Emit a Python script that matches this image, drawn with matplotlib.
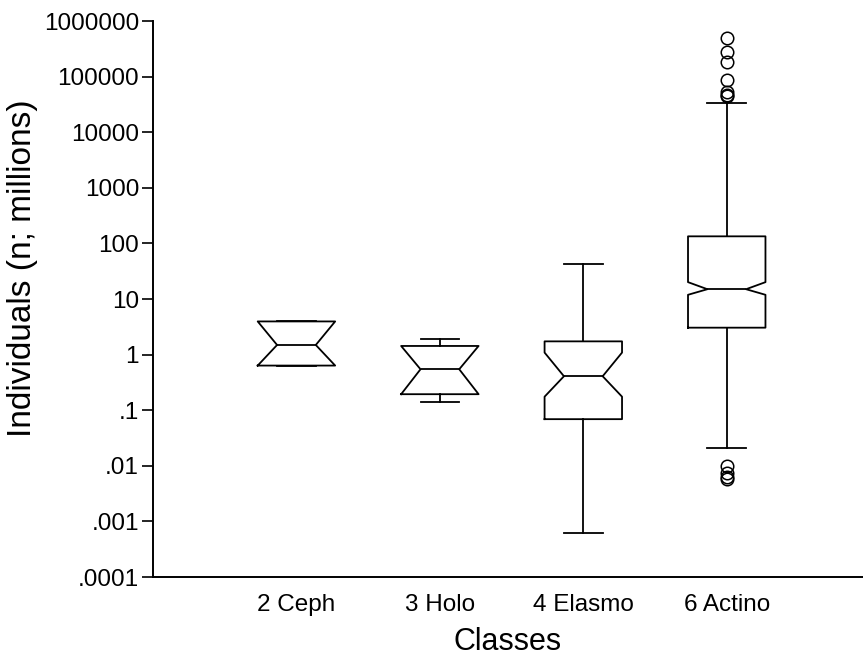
import matplotlib
matplotlib.use("Agg")
import matplotlib.pyplot as plt
from matplotlib.ticker import FixedLocator, FixedFormatter, NullLocator

plt.rcParams['font.family'] = ['Liberation Sans', 'DejaVu Sans']

classes = ["2 Ceph", "3 Holo", "4 Elasmo", "6 Actino"]
q1 = [0.635, 0.194, 0.069, 3.05]
median = [1.49, 0.545, 0.408, 15.0]
q3 = [3.95, 1.43, 1.73, 134.0]
whisker_low = [0.635, 0.14, 0.00062, 0.0207]
whisker_high = [3.95, 1.91, 43.3, 33300.0]
notch_low = [0.635, 0.194, 0.175, 11.9]
notch_high = [3.95, 1.43, 1.087, 20.1]
outliers = [
    [],
    [],
    [],
    [487000, 276000, 185000, 88300, 53200, 47500, 44400,
     0.0098, 0.0074, 0.0062, 0.0057],
]

ytick_values = [1e6, 1e5, 1e4, 1e3, 1e2, 1e1, 1, 0.1, 0.01, 0.001, 0.0001]
ytick_labels = ["1000000", "100000", "10000", "1000", "100", "10", "1",
                ".1", ".01", ".001", ".0001"]

stats = []
for i, name in enumerate(classes):
    stats.append(dict(label=name, med=median[i], q1=q1[i], q3=q3[i],
                      whislo=whisker_low[i], whishi=whisker_high[i],
                      cilo=notch_low[i], cihi=notch_high[i],
                      fliers=outliers[i]))

fig = plt.figure(figsize=(8.63, 6.59), dpi=100)
ax = fig.add_axes([153 / 863, (659 - 577) / 659, (863 - 153) / 863, (577 - 21) / 659])

line_kw = dict(color="black", linewidth=1.3)
ax.bxp(stats, positions=[1, 2, 3, 4], widths=0.54, shownotches=True,
       boxprops=line_kw, whiskerprops=line_kw, capprops=line_kw,
       medianprops=line_kw,
       flierprops=dict(marker="o", markerfacecolor="none",
                       markeredgecolor="black", markersize=9,
                       markeredgewidth=1.1))

ax.set_yscale("log")
ax.set_ylim(1e-4, 1e6)
ax.set_xlim(0, 4.95)
ax.yaxis.set_major_locator(FixedLocator(ytick_values))
ax.yaxis.set_major_formatter(FixedFormatter(ytick_labels))
ax.yaxis.set_minor_locator(NullLocator())

ax.spines["top"].set_visible(False)
ax.spines["right"].set_visible(False)
ax.spines["left"].set_linewidth(1.4)
ax.spines["bottom"].set_linewidth(1.4)
ax.tick_params(axis="y", direction="out", length=8, width=1.2, labelsize=17.5, pad=2)
ax.tick_params(axis="x", length=0, labelsize=17.5, pad=12)

ax.set_xlabel("Classes", fontsize=22, labelpad=8)
ax.set_ylabel("Individuals (n; millions)", fontsize=24, labelpad=4, y=0.555)

fig.savefig("out.png", dpi=100)
